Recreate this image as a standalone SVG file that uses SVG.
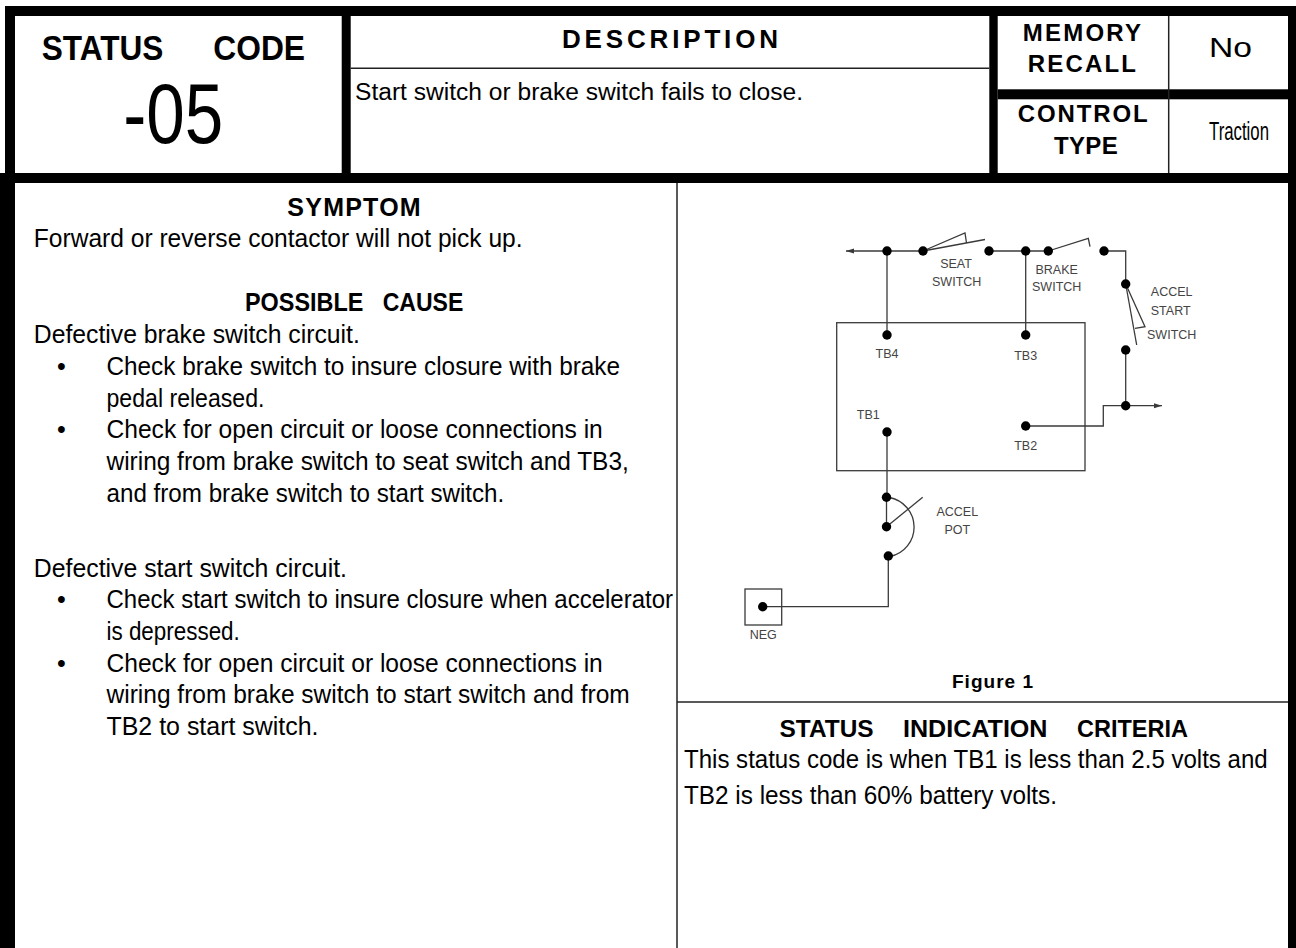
<svg xmlns="http://www.w3.org/2000/svg" width="1296" height="948" viewBox="0 0 1296 948">
<style>
.band{fill:#000}
.rule{stroke:#222;stroke-width:1.5;fill:none}
.h{font-family:"Liberation Sans",Arial,sans-serif;font-weight:bold;fill:#000}
.t{font-family:"Liberation Sans",Arial,sans-serif;fill:#000}
.b{font-size:25px}
.w{stroke:#3a3a3a;stroke-width:1.3;fill:none}
.dot{fill:#000}
.lbl{font-family:"Liberation Sans",Arial,sans-serif;font-size:12.5px;fill:#444;text-anchor:middle}
</style>
<defs>
<marker id="arr" markerUnits="userSpaceOnUse" markerWidth="9" markerHeight="6" refX="8" refY="2.5" orient="auto">
<path d="M0,0 L8,2.5 L0,5 z" fill="#3a3a3a"/>
</marker>
</defs>
<rect width="1296" height="948" fill="#fff"/>

<g id="frame">
<rect class="band" x="5" y="6" width="1291" height="10"/>
<rect class="band" x="5" y="6" width="10" height="177"/>
<rect class="band" x="0" y="173" width="15" height="775"/>
<rect class="band" x="1288" y="6" width="8" height="942"/>
<rect class="band" x="5" y="173" width="1291" height="10"/>
<rect class="band" x="341.7" y="16" width="9" height="157"/>
<rect class="band" x="989.3" y="16" width="8.4" height="157"/>
<rect class="band" x="997.7" y="89.3" width="293.3" height="10"/>
<line class="rule" x1="1168.7" y1="16" x2="1168.7" y2="173"/>
<line class="rule" x1="350.7" y1="68.3" x2="989.3" y2="68.3"/>
<line class="rule" x1="677" y1="183" x2="677" y2="948"/>
<line class="rule" x1="677" y1="702" x2="1288" y2="702"/>
</g>

<g id="status-code">
<text class="h" x="41.7" y="60" font-size="35" textLength="121.6" lengthAdjust="spacingAndGlyphs">STATUS</text>
<text class="h" x="213.3" y="60" font-size="35" textLength="91.7" lengthAdjust="spacingAndGlyphs">CODE</text>
<text class="t" x="123.3" y="142.7" font-size="86" textLength="100" lengthAdjust="spacingAndGlyphs">-05</text>
</g>

<g id="description">
<text class="h" x="562" y="48" font-size="26" textLength="216">DESCRIPTION</text>
<text class="t" x="355" y="100" font-size="23" textLength="448" lengthAdjust="spacingAndGlyphs">Start switch or brake switch fails to close.</text>
</g>

<g id="memory-recall">
<text class="h" x="1022.7" y="40.7" font-size="24" textLength="118.3">MEMORY</text>
<text class="h" x="1027.7" y="71.7" font-size="24" textLength="108.3">RECALL</text>
<text class="t" x="1209" y="56.7" font-size="28" textLength="43" lengthAdjust="spacingAndGlyphs">No</text>
</g>

<g id="control-type">
<text class="h" x="1017.7" y="121.7" font-size="24" textLength="130">CONTROL</text>
<text class="h" x="1054" y="154" font-size="24" textLength="63.7">TYPE</text>
<text class="t" x="1209" y="140" font-size="25" textLength="60" lengthAdjust="spacingAndGlyphs">Traction</text>
</g>

<g id="symptom">
<text class="h" x="287.3" y="215.7" font-size="25" textLength="133.4">SYMPTOM</text>
<text class="t b" x="33.8" y="246.7" textLength="488.8" lengthAdjust="spacingAndGlyphs">Forward or reverse contactor will not pick up.</text>
</g>

<g id="possible-cause">
<text class="h" x="245" y="311" font-size="25" textLength="118.3" lengthAdjust="spacingAndGlyphs">POSSIBLE</text>
<text class="h" x="382.7" y="311" font-size="25" textLength="80.6" lengthAdjust="spacingAndGlyphs">CAUSE</text>
<text class="t b" x="33.8" y="343.3" textLength="326" lengthAdjust="spacingAndGlyphs">Defective brake switch circuit.</text>
<text class="t b" x="57" y="375">•</text>
<text class="t b" x="106.5" y="375" textLength="513.5" lengthAdjust="spacingAndGlyphs">Check brake switch to insure closure with brake</text>
<text class="t b" x="106.5" y="406.7" textLength="158" lengthAdjust="spacingAndGlyphs">pedal released.</text>
<text class="t b" x="57" y="438.3">•</text>
<text class="t b" x="106.5" y="438.3" textLength="496.3" lengthAdjust="spacingAndGlyphs">Check for open circuit or loose connections in</text>
<text class="t b" x="106.5" y="470" textLength="522.3" lengthAdjust="spacingAndGlyphs">wiring from brake switch to seat switch and TB3,</text>
<text class="t b" x="106.5" y="501.7" textLength="397.8" lengthAdjust="spacingAndGlyphs">and from brake switch to start switch.</text>
<text class="t b" x="33.8" y="576.7" textLength="313.2" lengthAdjust="spacingAndGlyphs">Defective start switch circuit.</text>
<text class="t b" x="57" y="608.3">•</text>
<text class="t b" x="106.5" y="608.3" textLength="566.5" lengthAdjust="spacingAndGlyphs">Check start switch to insure closure when accelerator</text>
<text class="t b" x="106.5" y="640" textLength="133.3" lengthAdjust="spacingAndGlyphs">is depressed.</text>
<text class="t b" x="57" y="671.7">•</text>
<text class="t b" x="106.5" y="671.7" textLength="496.3" lengthAdjust="spacingAndGlyphs">Check for open circuit or loose connections in</text>
<text class="t b" x="106.5" y="703.3" textLength="523.2" lengthAdjust="spacingAndGlyphs">wiring from brake switch to start switch and from</text>
<text class="t b" x="106.5" y="735" textLength="212" lengthAdjust="spacingAndGlyphs">TB2 to start switch.</text>
</g>

<g id="connectors">
<line class="w" x1="887" y1="251" x2="846" y2="251" marker-end="url(#arr)"/>
<line class="w" x1="887" y1="251" x2="923" y2="251"/>
<line class="w" x1="887" y1="251" x2="887" y2="335"/>
<polyline class="w" points="923,251 965,233 966.5,243"/>
<line class="w" x1="923" y1="251" x2="985" y2="239.5"/>
<line class="w" x1="989" y1="251" x2="1048.3" y2="251"/>
<line class="w" x1="1025.7" y1="251" x2="1025.7" y2="335"/>
<polyline class="w" points="1048.3,251 1088.3,238.3 1090,246.7"/>
<polyline class="w" points="1104,251 1125.7,251 1125.7,284"/>
<line class="w" x1="1125.7" y1="284" x2="1136.7" y2="345"/>
<polyline class="w" points="1125.7,284 1145,326.7 1135,328.3"/>
<line class="w" x1="1125.7" y1="350" x2="1125.7" y2="405.7"/>
<line class="w" x1="1125.7" y1="405.7" x2="1162" y2="405.7" marker-end="url(#arr)"/>
<polyline class="w" points="1125.7,405.7 1103.3,405.7 1103.3,426 1025.7,426"/>
<line class="w" x1="887" y1="432" x2="887" y2="497.3"/>
<line class="w" x1="886.5" y1="497.3" x2="886.5" y2="526.7"/>
<path class="w" d="M889,497.5 A30,30 0 0 1 890,556.5"/>
<line class="w" x1="886.5" y1="526.7" x2="922.7" y2="497.3"/>
<polyline class="w" points="888.3,556 888.3,606.7 762.7,606.7"/>
</g>

<g id="controller-box">
<rect class="w" x="836.7" y="322.7" width="248.3" height="148" stroke="#555"/>
</g>

<g id="terminals">
<circle class="dot" cx="887" cy="251" r="4.7"/>
<circle class="dot" cx="923" cy="251" r="4.7"/>
<circle class="dot" cx="989" cy="251" r="4.7"/>
<circle class="dot" cx="1025.7" cy="251" r="4.7"/>
<circle class="dot" cx="1048.3" cy="251" r="4.7"/>
<circle class="dot" cx="1104" cy="251" r="4.7"/>
<circle class="dot" cx="1125.7" cy="284" r="4.7"/>
<circle class="dot" cx="1125.7" cy="350" r="4.7"/>
<circle class="dot" cx="1125.7" cy="405.7" r="4.7"/>
<circle class="dot" cx="887" cy="335" r="4.7"/>
<circle class="dot" cx="1025.7" cy="335" r="4.7"/>
<circle class="dot" cx="887" cy="432" r="4.7"/>
<circle class="dot" cx="1025.7" cy="426" r="4.7"/>
<circle class="dot" cx="886.5" cy="497.3" r="4.7"/>
<circle class="dot" cx="886.5" cy="526.7" r="4.7"/>
<circle class="dot" cx="888.3" cy="556" r="4.7"/>
</g>

<g id="neg">
<rect class="w" x="745" y="589" width="36.7" height="36" stroke="#555"/>
<circle class="dot" cx="762.7" cy="606.7" r="4.7"/>
<text class="lbl" x="763.3" y="638.5">NEG</text>
</g>

<g id="labels">
<text class="lbl" x="956" y="267.5">SEAT</text>
<text class="lbl" x="956.7" y="285.5">SWITCH</text>
<text class="lbl" x="1056.7" y="273.5">BRAKE</text>
<text class="lbl" x="1056.7" y="291">SWITCH</text>
<text class="lbl" x="1171.7" y="296">ACCEL</text>
<text class="lbl" x="1170.7" y="314.5">START</text>
<text class="lbl" x="1171.7" y="338.5">SWITCH</text>
<text class="lbl" x="887" y="357.5">TB4</text>
<text class="lbl" x="1025.7" y="359.5">TB3</text>
<text class="lbl" x="868.3" y="418.5">TB1</text>
<text class="lbl" x="1025.7" y="449.5">TB2</text>
<text class="lbl" x="957.3" y="516">ACCEL</text>
<text class="lbl" x="957.3" y="533.5">POT</text>
</g>

<g id="figure-caption">
<text class="h" x="952" y="688" font-size="19" textLength="81">Figure 1</text>
</g>

<g id="criteria">
<text class="h" x="779.6" y="736.7" font-size="24" textLength="94" lengthAdjust="spacingAndGlyphs">STATUS</text>
<text class="h" x="903" y="736.7" font-size="24" textLength="144.5" lengthAdjust="spacingAndGlyphs">INDICATION</text>
<text class="h" x="1077" y="736.7" font-size="24" textLength="111" lengthAdjust="spacingAndGlyphs">CRITERIA</text>
<text class="t b" x="684" y="768.3" textLength="583.7" lengthAdjust="spacingAndGlyphs">This status code is when TB1 is less than 2.5 volts and</text>
<text class="t b" x="684" y="804" textLength="373" lengthAdjust="spacingAndGlyphs">TB2 is less than 60% battery volts.</text>
</g>
</svg>
